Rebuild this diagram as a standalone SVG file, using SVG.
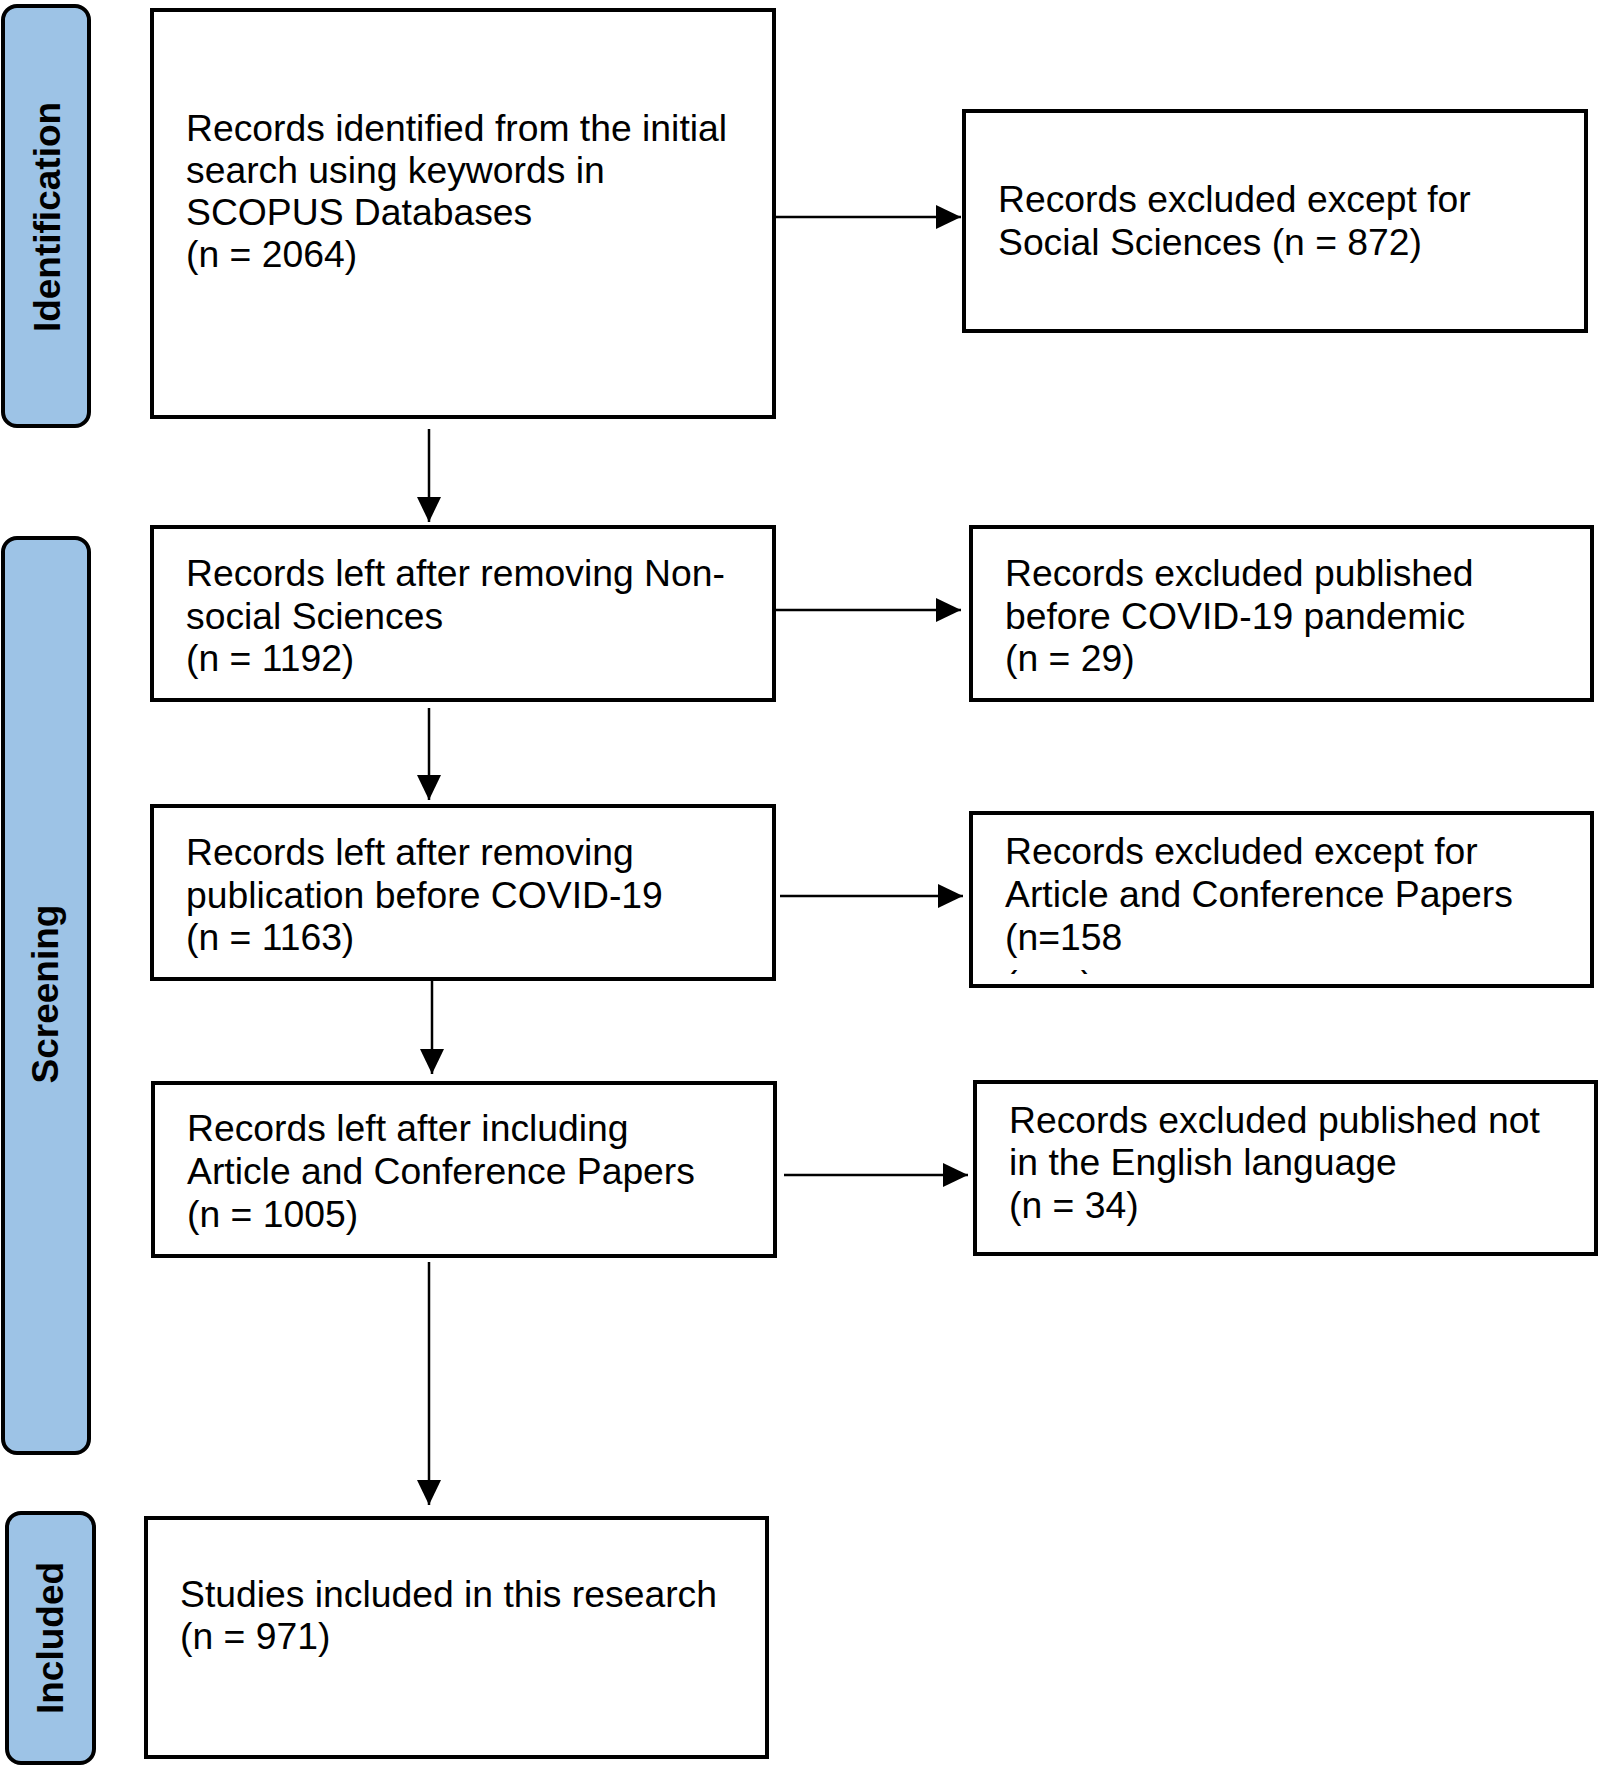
<svg xmlns="http://www.w3.org/2000/svg" width="1600" height="1767" viewBox="0 0 1600 1767">
<style>
.box{fill:#fff;stroke:#000;stroke-width:4}
.bar{fill:#9DC3E6;stroke:#000;stroke-width:4}
.t{font-family:"Liberation Sans",Arial,sans-serif;font-size:37.3px;fill:#000}
.s{font-family:"Liberation Sans",Arial,sans-serif;font-size:37px;font-weight:bold;fill:#000;text-anchor:middle}
.c{stroke:#000;stroke-width:2.5;fill:none;marker-end:url(#ah)}
</style>
<defs>
<marker id="ah" markerUnits="userSpaceOnUse" markerWidth="26" markerHeight="26" viewBox="0 0 26 26" refX="25" refY="12" orient="auto">
<path d="M0,0 L25,12 L0,24 Z" fill="#000"/>
</marker>
<clipPath id="clip6"><rect x="971" y="813" width="621" height="161"/></clipPath>
</defs>
<rect width="1600" height="1767" fill="#fff"/>
<g id="phase-identification">
<rect class="bar" x="3" y="6" width="86" height="420" rx="14"/>
<text class="s" transform="translate(60,217) rotate(-90)">Identification</text>
</g>
<g id="phase-screening">
<rect class="bar" x="3" y="538" width="86" height="915" rx="14"/>
<text class="s" transform="translate(58,994) rotate(-90)">Screening</text>
</g>
<g id="phase-included">
<rect class="bar" x="7" y="1513" width="87" height="250" rx="14"/>
<text class="s" transform="translate(63,1638) rotate(-90)">Included</text>
</g>
<g id="connectors">
<line class="c" x1="429" y1="429" x2="429" y2="522"/>
<line class="c" x1="429" y1="708" x2="429" y2="800"/>
<line class="c" x1="432" y1="981" x2="432" y2="1074"/>
<line class="c" x1="429" y1="1262" x2="429" y2="1505"/>
<line class="c" x1="776" y1="217" x2="961" y2="217"/>
<line class="c" x1="776" y1="610" x2="961" y2="610"/>
<line class="c" x1="780" y1="896" x2="963" y2="896"/>
<line class="c" x1="784" y1="1175" x2="968" y2="1175"/>
</g>
<g id="n1">
<rect class="box" x="152" y="10" width="622" height="407"/>
<text class="t" x="186" y="141">Records identified from the initial</text>
<text class="t" x="186" y="183">search using keywords in</text>
<text class="t" x="186" y="225">SCOPUS Databases</text>
<text class="t" x="186" y="267">(n = 2064)</text>
</g>
<g id="n2">
<rect class="box" x="964" y="111" width="622" height="220"/>
<text class="t" x="998" y="212">Records excluded except for</text>
<text class="t" x="998" y="255">Social Sciences (n = 872)</text>
</g>
<g id="n3">
<rect class="box" x="152" y="527" width="622" height="173"/>
<text class="t" x="186" y="586">Records left after removing Non-</text>
<text class="t" x="186" y="629">social Sciences</text>
<text class="t" x="186" y="671">(n = 1192)</text>
</g>
<g id="n4">
<rect class="box" x="971" y="527" width="621" height="173"/>
<text class="t" x="1005" y="586">Records excluded published</text>
<text class="t" x="1005" y="629">before COVID-19 pandemic</text>
<text class="t" x="1005" y="671">(n = 29)</text>
</g>
<g id="n5">
<rect class="box" x="152" y="806" width="622" height="173"/>
<text class="t" x="186" y="865">Records left after removing</text>
<text class="t" x="186" y="908">publication before COVID-19</text>
<text class="t" x="186" y="950">(n = 1163)</text>
</g>
<g id="n6">
<rect class="box" x="971" y="813" width="621" height="173"/>
<text class="t" x="1005" y="864">Records excluded except for</text>
<text class="t" x="1005" y="907">Article and Conference Papers</text>
<text class="t" x="1005" y="950">(n=158</text>
<text class="t" x="1005" y="997" clip-path="url(#clip6)">(n = )</text>
</g>
<g id="n7">
<rect class="box" x="153" y="1083" width="622" height="173"/>
<text class="t" x="187" y="1141">Records left after including</text>
<text class="t" x="187" y="1184">Article and Conference Papers</text>
<text class="t" x="187" y="1227">(n = 1005)</text>
</g>
<g id="n8">
<rect class="box" x="975" y="1082" width="621" height="172"/>
<text class="t" x="1009" y="1133">Records excluded published not</text>
<text class="t" x="1009" y="1175">in the English language</text>
<text class="t" x="1009" y="1218">(n = 34)</text>
</g>
<g id="n9">
<rect class="box" x="146" y="1518" width="621" height="239"/>
<text class="t" x="180" y="1607">Studies included in this research</text>
<text class="t" x="180" y="1649">(n = 971)</text>
</g>
</svg>
